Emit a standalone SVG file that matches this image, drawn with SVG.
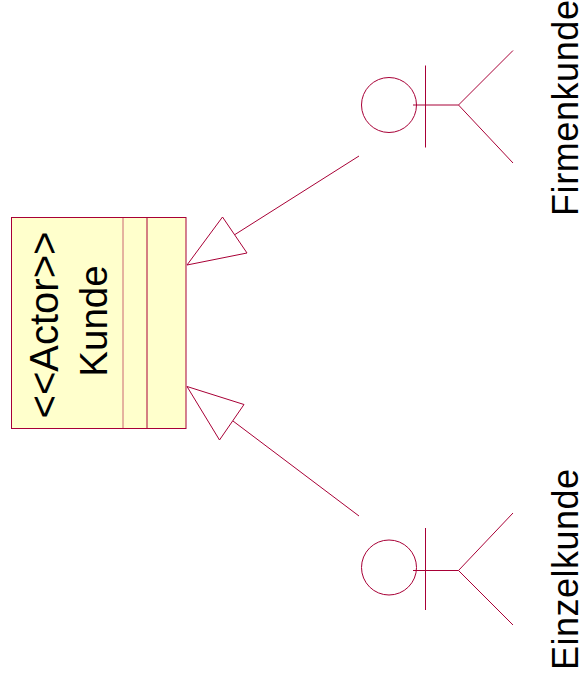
<svg xmlns="http://www.w3.org/2000/svg" width="581" height="682" viewBox="0 0 581 682">
<style>
.l{fill:none;stroke:#a80036;stroke-width:1}
.h{fill:#fff;stroke:#a80036;stroke-width:1}
text{font-family:"Liberation Sans",Arial,sans-serif;font-size:36px;fill:#000}
</style>
<rect width="581" height="682" fill="#fff"/>
<g id="kunde">
<rect x="11.500" y="217.500" width="174.500" height="211" fill="#ffffcc" stroke="#a80036"/>
<line class="l" x1="123" y1="217.500" x2="123" y2="428.500" stroke-opacity=".6"/>
<line class="l" x1="147" y1="217.500" x2="147" y2="428.500"/>
<text transform="translate(58,325) rotate(-90)" text-anchor="middle" style="font-size:40px">&lt;&lt;Actor&gt;&gt;</text>
<text transform="translate(107,321) rotate(-90)" text-anchor="middle" style="font-size:38.500px">Kunde</text>
</g>
<g id="firmenkunde">
<circle class="l" cx="389" cy="105" r="27.500"/>
<line class="l" x1="413" y1="105" x2="458.500" y2="105"/>
<line class="l" x1="425.500" y1="65.500" x2="425.500" y2="147.500"/>
<path class="l" d="M513 50.500L458.500 105L513 163"/>
<text transform="translate(578,216) rotate(-90)" textLength="216" lengthAdjust="spacing">Firmenkunde</text>
</g>
<g id="einzelkunde">
<circle class="l" cx="389" cy="567.500" r="27.500"/>
<line class="l" x1="413" y1="570.500" x2="458.500" y2="570.500"/>
<line class="l" x1="425.500" y1="528" x2="425.500" y2="610"/>
<path class="l" d="M513 513L458.500 570.500L513 625"/>
<text transform="translate(578,670) rotate(-90)" textLength="201" lengthAdjust="spacing">Einzelkunde</text>
</g>
<g id="connectors">
<line class="l" x1="359" y1="156" x2="235" y2="234.500"/>
<path class="h" d="M187 265L222.500 217L247 253Z"/>
<line class="l" x1="359" y1="516" x2="233" y2="421"/>
<path class="h" d="M187 386.500L244 404.500L219.500 440Z"/>
</g>
</svg>
